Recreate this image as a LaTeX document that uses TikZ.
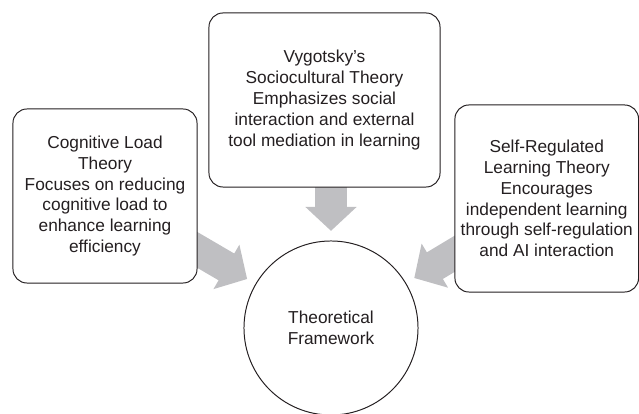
\documentclass[tikz,border=0pt]{standalone}
\usepackage{fontspec}
\setmainfont{Liberation Sans}
\usepackage{tikz}
\usetikzlibrary{arrows.meta,backgrounds}
\definecolor{bebebf}{rgb}{0.75,0.75,0.76}
\definecolor{sqsqsq}{rgb}{0.14,0.12,0.13}

\begin{document}
\begin{tikzpicture}[line cap=round,line join=round,x=0.025cm,y=0.025cm,
  theory/.style={draw=sqsqsq,line width=0.7pt,rounded corners=0.35cm,fill=white,
    align=center,inner sep=0pt,text=sqsqsq,font=\fontsize{12.3pt}{14.8pt}\selectfont},
  bigarrow/.style={draw=bebebf,line width=0.775cm,line cap=butt,
    -{Triangle[width=1.25cm,length=0.6cm]},shorten >=0.24cm}]
\useasboundingbox (0,0) rectangle (639,414);

% the three theories
\node[theory,minimum width=4.6cm,minimum height=4.35cm] (clt) at (105,218)
  {Cognitive Load\\Theory\\Focuses on reducing\\cognitive load to\\enhance learning\\efficiency};
\node[theory,minimum width=5.775cm,minimum height=4.35cm] (vyg) at (324.5,314)
  {Vygotsky’s\\Sociocultural Theory\\Emphasizes social\\interaction and external\\tool mediation in learning};
\node[theory,minimum width=4.59cm,minimum height=4.675cm] (srl) at (546.75,215.5)
  {Self-Regulated\\Learning Theory\\Encourages\\independent learning\\through self-regulation\\and AI interaction};

% framework in the middle
\node[draw=sqsqsq,line width=0.7pt,circle,fill=white,minimum size=4.35cm,inner sep=0pt,
  align=center,text=sqsqsq,font=\fontsize{12.3pt}{14.8pt}\selectfont] (frame) at (331,86)
  {Theoretical\\Framework};

% grey arrows go under the boxes
\begin{scope}[on background layer]
\draw[bigarrow] (clt.center) -- (frame);
\draw[bigarrow] (vyg.center -| frame.center) -- (frame.north);
\draw[bigarrow] (srl.center) -- (frame);
\end{scope}
\end{tikzpicture}
\end{document}
